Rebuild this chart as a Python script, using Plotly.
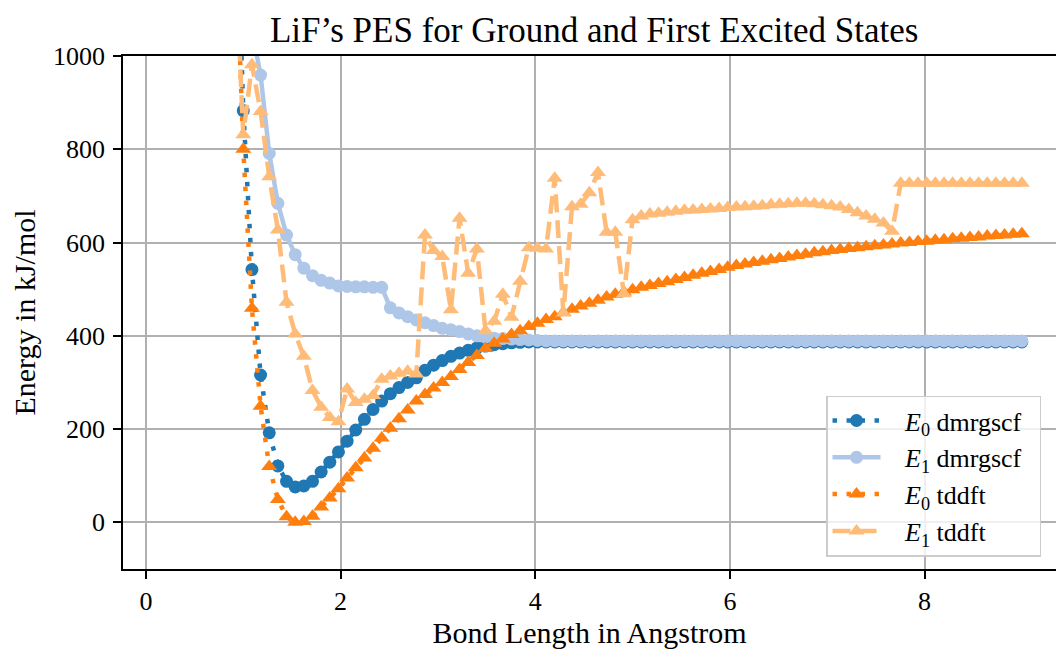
import numpy as np
import plotly.graph_objects as go

# Bond lengths (Angstrom): sampling grid from 0.2 to 9.0 in 100 steps,
# plotted from index 8 onward (shorter distances lie far above the energy window)
bond_length = np.linspace(0.2, 9.0, 100)[8:]

# Energies in kJ/mol, one value per bond length
e0_dmrgscf = [
    1450, 883, 542, 316, 192, 121, 88, 76, 78, 88,
    108, 129, 151, 174, 198, 221, 242, 260, 276, 289,
    300, 310, 326, 337, 347, 356, 363, 369, 374, 378,
    381, 383, 385, 386, 387, 387, 387, 387, 387, 387,
    387, 387, 387, 387, 387, 387, 387, 387, 387, 387,
    387, 387, 387, 387, 387, 387, 387, 387, 387, 387,
    387, 387, 387, 387, 387, 387, 387, 387, 387, 387,
    387, 387, 387, 387, 387, 387, 387, 387, 387, 387,
    387, 387, 387, 387, 387, 387, 387, 387, 387, 387,
    387, 387,
]

e1_dmrgscf = [
    1600, 1280, 1056, 959, 791, 684, 616, 574, 545, 529,
    519, 513, 507, 506, 505, 505, 504, 504, 460, 449,
    441, 434, 428, 422, 416, 413, 409, 404, 400, 397,
    395, 394, 393, 392, 391, 390, 389, 389, 389, 389,
    389, 389, 389, 389, 389, 389, 389, 389, 389, 389,
    389, 389, 389, 389, 389, 389, 389, 389, 389, 389,
    389, 389, 389, 389, 389, 389, 389, 389, 389, 389,
    389, 389, 389, 389, 389, 389, 389, 389, 389, 389,
    389, 389, 389, 389, 389, 389, 389, 389, 389, 389,
    389, 389,
]

e0_tddft = [
    1320, 800, 459, 249, 120, 49, 12, 0, 2, 13,
    33, 52, 72, 95, 117, 138, 159, 181, 202, 222,
    241, 260, 274, 288, 300, 313, 328, 343, 358, 373,
    384, 393, 403, 411, 420, 427, 435, 441, 450, 457,
    464, 470, 476, 483, 489, 494, 499, 504, 508, 512,
    516, 521, 525, 530, 534, 538, 542, 547, 551, 554,
    557, 560, 563, 566, 569, 572, 575, 578, 580, 583,
    585, 587, 589, 591, 593, 595, 597, 599, 600, 602,
    603, 605, 606, 608, 609, 611, 612, 614, 615, 616,
    618, 619,
]

e1_tddft = [
    1250, 831, 981, 881, 741, 627, 472, 404, 356, 283,
    247, 225, 216, 286, 257, 264, 272, 307, 314, 320,
    324, 318, 616, 583, 570, 456, 652, 534, 586, 411,
    431, 489, 440, 517, 589, 588, 586, 738, 449, 677,
    682, 707, 750, 622, 622, 490, 649, 657, 661, 663,
    665, 667, 669, 670, 671, 672, 673, 675, 676, 677,
    678, 679, 681, 682, 683, 684, 684, 683, 681, 679,
    676, 671, 664, 657, 650, 642, 624, 727, 727, 727,
    727, 727, 727, 727, 727, 727, 727, 727, 727, 727,
    727, 727,
]

# Legend labels; non-breaking padding sets the key-to-text gap and the box width
LEAD = "&nbsp;&nbsp;&nbsp;"
TAIL = "&nbsp;&nbsp;"
series = [
    ("<i>E</i><sub>0</sub> dmrgscf", e0_dmrgscf, "#1f77b4", "circle", "4.5px,9.5px", 13),
    ("<i>E</i><sub>1</sub> dmrgscf", e1_dmrgscf, "#aec7e8", "circle", "solid", 13),
    ("<i>E</i><sub>0</sub> tddft", e0_tddft, "#ff7f0e", "triangle-up", "4.5px,9.5px", 14),
    ("<i>E</i><sub>1</sub> tddft", e1_tddft, "#ffbb78", "triangle-up", "18px,8px", 14),
]

FONT = "Liberation Serif"

fig = go.Figure()
for name, values, color, symbol, dash, msize in series:
    fig.add_trace(go.Scatter(
        x=bond_length, y=values, name=LEAD + name + TAIL, mode="lines+markers",
        line=dict(color=color, width=4.5, dash=dash),
        marker=dict(color=color, symbol=symbol, size=msize, line=dict(width=0)),
    ))

axis_style = dict(
    showgrid=True, gridcolor="#b0b0b0", gridwidth=1.8,
    showline=True, linecolor="black", linewidth=1.8,
    ticks="outside", ticklen=8, tickwidth=1.8, tickcolor="black",
    zeroline=False,
    tickfont=dict(family=FONT, size=26, color="black"),
)

fig.update_layout(
    width=1056, height=650, autosize=False,
    margin=dict(l=123, r=0, t=56, b=81),
    paper_bgcolor="white", plot_bgcolor="white",
    font=dict(family=FONT, color="black"),
    title=dict(
        text="LiF’s PES for Ground and First Excited States",
        font=dict(family=FONT, size=35, color="black"),
        x=0.505, xref="paper", xanchor="center",
        y=1 - 30 / 650, yref="container", yanchor="middle",
    ),
    xaxis=dict(
        range=[-0.236, 9.351], tickvals=[0, 2, 4, 6, 8], mirror=True,
        title=dict(text="Bond Length in Angstrom", font=dict(family=FONT, size=30), standoff=4),
        automargin=False, **axis_style,
    ),
    yaxis=dict(
        range=[-100, 1000], tickvals=[0, 200, 400, 600, 800, 1000],
        ticklabelstandoff=3,
        title=dict(text="Energy in kJ/mol", font=dict(family=FONT, size=30), standoff=8),
        automargin=False, **axis_style,
    ),
    legend=dict(
        x=0.7535, y=0.338, xanchor="left", yanchor="top",
        bgcolor="rgba(255,255,255,0.8)", bordercolor="#cccccc", borderwidth=1.5,
        font=dict(family=FONT, size=26, color="black"),
        itemwidth=48, tracegroupgap=0,
    ),
)

fig.write_html("out.html")
